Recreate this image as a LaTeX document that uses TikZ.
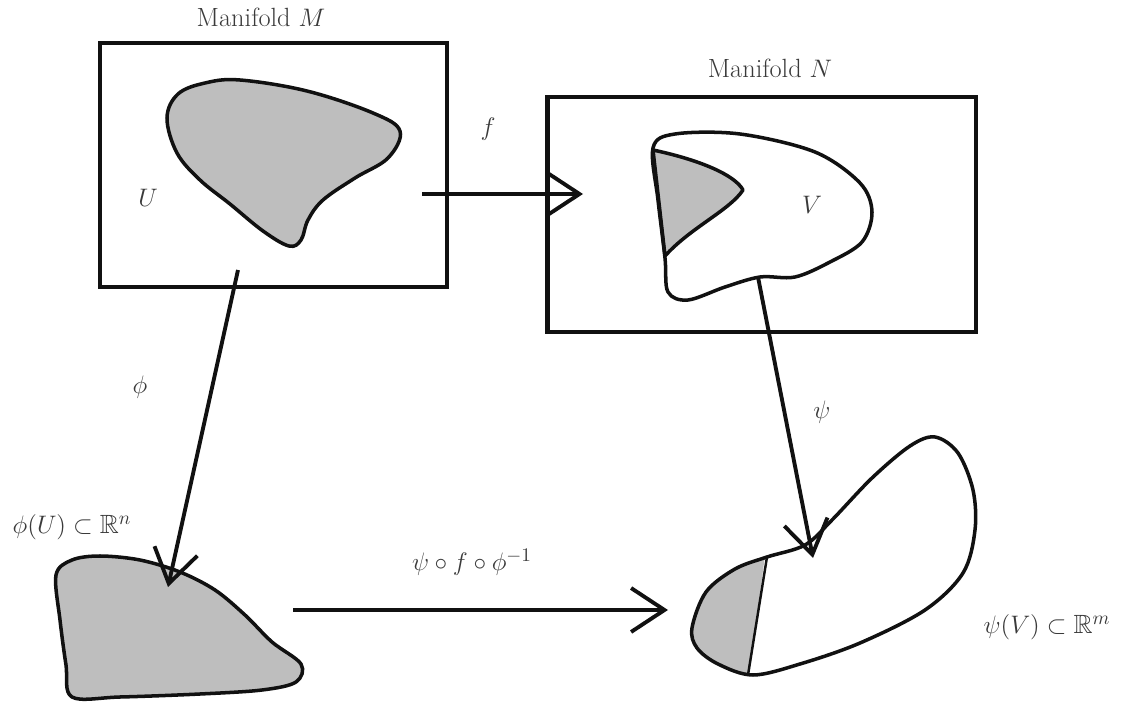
\documentclass[tikz,border=0pt]{standalone}
\usepackage{amsmath,amssymb}
\usepackage{tikz}
\usetikzlibrary{arrows.meta,positioning}
\definecolor{chartgray}{HTML}{BEBEBE}
\definecolor{ink}{HTML}{111111}
\definecolor{lbltext}{HTML}{3A3A3A}
\tikzset{
  framebox/.style={
    rectangle, draw=ink, line width=2.8pt, fill=none,
    inner sep=0pt
  },
  regionline/.style={
    draw=ink, line width=2pt, line join=round
  },
  mapline/.style={
    draw=ink, line width=2.2pt,
    -{Straight Barb[length=19pt, width=25pt]}
  },
  lbl/.style={
    font=\fontsize{15}{18}\selectfont, text=lbltext, inner sep=1pt
  },
}

\begin{document}
\begin{tikzpicture}[x=0.02cm, y=-0.02cm]
    \useasboundingbox (0,0) rectangle (1127,706);
    % the two manifolds
    \node[framebox, minimum width=6.94cm, minimum height=4.88cm] (boxM) at (273.5,165) {};
    \node[framebox, minimum width=8.58cm, minimum height=4.70cm] (boxN) at (761.5,214.5) {};
    \node[lbl] (labM) at (261,17) {Manifold $M$};
    \node[lbl] (labN) at (770,68) {Manifold $N$};
    % U inside M
    \path[regionline, fill=chartgray] plot[smooth cycle, tension=0.6] coordinates {
      (167,118) (178,94) (205,83) (240,80) (307,91) (373,113) (400,131)
      (388,158) (355,178) (323,200) (308,220) (301,240) (289,246)
      (263,231) (230,204) (200,180) (177,153)};
    \node[lbl] (labU) at (148,198) {$U$};
    % V inside N
    \path[regionline, fill=chartgray] (653,150) .. controls (700,160) and (735,175) .. (743,190)
      .. controls (730,210) and (690,228) .. (665,256) -- cycle;
    \path[regionline] plot[smooth cycle, tension=0.55] coordinates {
      (653,148) (675,134) (740,134) (815,152) (860,183) (872,212)
      (862,242) (830,262) (795,277) (760,277) (725,287) (688,300)
      (668,292) (665,258) (658,200)};
    \node[lbl] (labV) at (812,205) {$V$};
    % phi(U) in R^n
    \path[regionline, fill=chartgray] plot[smooth cycle, tension=0.55] coordinates {
      (56,575) (72,560) (100,556) (140,560) (180,572) (215,590) (245,615)
      (272,642) (301,664) (296,682) (262,690) (200,694) (120,697) (72,697)
      (66,665) (60,620)};
    \node[lbl] (labPhiU) at (72,527) {$\phi(U)\subset\mathbb{R}^n$};
    % psi(V) in R^m
    \begin{scope}
      \clip plot[smooth cycle, tension=0.55] coordinates {
        (692,628) (706,592) (735,569) (767,557) (805,545) (832,520) (872,478)
        (910,446) (935,437) (958,453) (973,490) (975,530) (963,573) (925,610)
        (860,643) (800,664) (753,675) (718,664) (697,648)};
      \fill[chartgray] (650,520) -- (767,540) -- (746,700) -- (650,700) -- cycle;
    \end{scope}
    \path[regionline] plot[smooth cycle, tension=0.55] coordinates {
      (692,628) (706,592) (735,569) (767,557) (805,545) (832,520) (872,478)
      (910,446) (935,437) (958,453) (973,490) (975,530) (963,573) (925,610)
      (860,643) (800,664) (753,675) (718,664) (697,648)};
    \coordinate (cutTop) at (767,557);
    \coordinate (cutBot) at (748,675);
    \draw[draw=ink, line width=1.4pt] (cutTop) -- (cutBot);
    \node[lbl] (labPsiV) at (1047,627) {$\psi(V)\subset\mathbb{R}^m$};
    % maps
    \coordinate (fStart) at (422,194);
    \coordinate (fEnd) at (583,194);
    \coordinate (phiStart) at (238,270);
    \coordinate (phiEnd) at (168,587);
    \coordinate (psiStart) at (758,277);
    \coordinate (psiEnd) at (813,558);
    \coordinate (compStart) at (293,610);
    \coordinate (compEnd) at (668,610);
    \draw[mapline] (fStart) -- (fEnd);
    \draw[mapline] (phiStart) -- (phiEnd);
    \draw[mapline] (psiStart) -- (psiEnd);
    \draw[mapline] (compStart) -- (compEnd);
    \node[lbl] (labF) at (488,129) {$f$};
    \node[lbl] (labPhi) at (140,387) {$\phi$};
    \node[lbl] (labPsi) at (822,412) {$\psi$};
    \node[lbl] (labComp) at (472,562) {$\psi\circ f\circ\phi^{-1}$};
\end{tikzpicture}
\end{document}
